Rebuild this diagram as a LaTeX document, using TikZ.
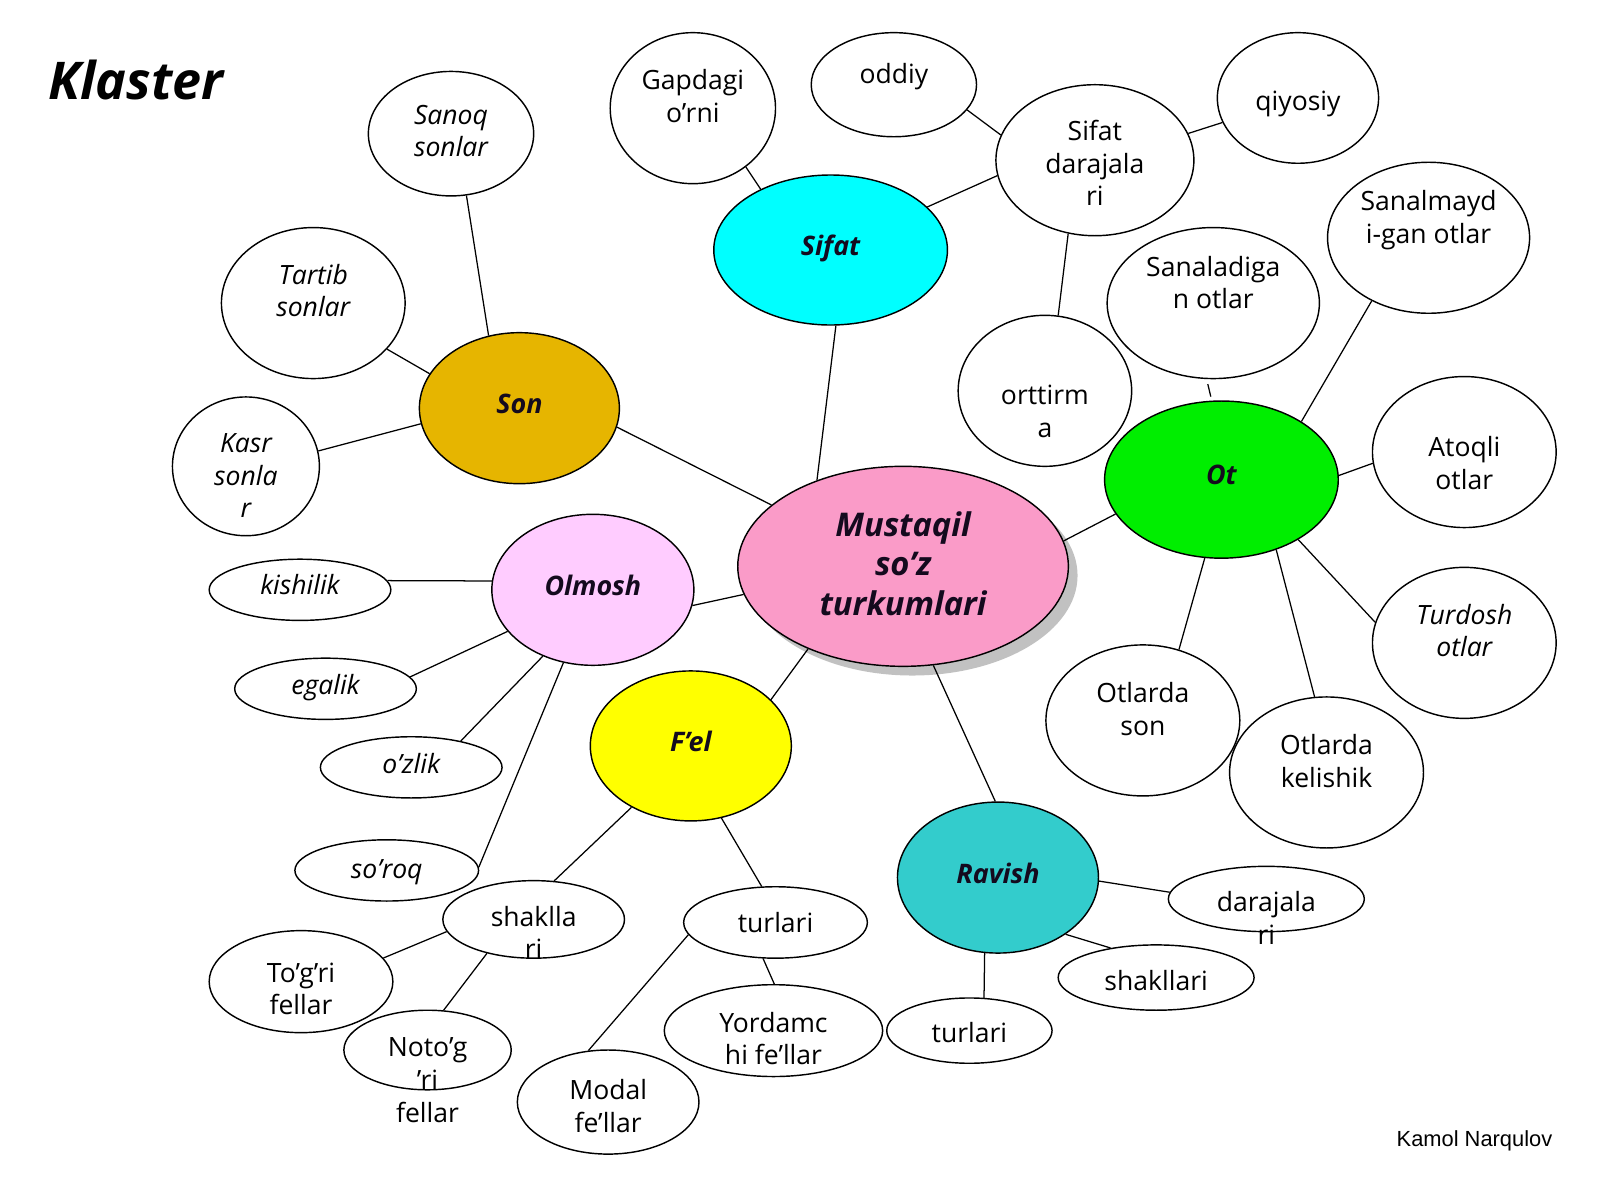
\documentclass[tikz,border=0pt]{standalone}
\usepackage{fontspec}
\setmainfont{Open Sans}
\newfontfamily\arialfont{Liberation Sans}
\usetikzlibrary{shapes.geometric,shadows}
\definecolor{pinkc}{RGB}{250,155,200}
\definecolor{sonc}{RGB}{230,181,0}
\definecolor{sifatc}{RGB}{0,255,255}
\definecolor{otc}{RGB}{0,238,0}
\definecolor{olmoshc}{RGB}{255,204,255}
\definecolor{felc}{RGB}{255,255,0}
\definecolor{ravishc}{RGB}{51,204,204}
\definecolor{inkc}{RGB}{20,10,30}
\newlength\pxu \setlength\pxu{0.2mm}
\newcommand{\tx}[2]{\makebox[0pt]{\raisebox{\dimexpr-#1\pxu-3\pxu-.25em\relax}[0pt][0pt]{\begin{tabular}{@{}c@{}}#2\end{tabular}}}}

\begin{document}
\begin{tikzpicture}[x=0.2mm,y=-0.2mm,
    bubble/.style 2 args={ellipse, draw, line width=0.8pt, inner sep=0pt,
      minimum width=#1*0.2mm, minimum height=#2*0.2mm},
    leaf/.style 2 args={bubble={#1}{#2}, fill=white, font=\fontsize{14.8}{18.2}\selectfont},
    ileaf/.style 2 args={leaf={#1}{#2}, font=\fontsize{14.8}{18.2}\selectfont\itshape},
    group/.style n args={3}{bubble={#1}{#2}, fill=#3, text=inkc,
      font=\fontsize{15}{18}\selectfont\bfseries\itshape},
    link/.style={line width=0.7pt}]
  \fill[white] (0,0) rectangle (1568,1176);
  \useasboundingbox (0,0) rectangle (1568,1176);

  \node[anchor=west, inner sep=0pt, font=\fontsize{29}{34}\selectfont\bfseries\itshape] (title) at (47,78) {Klaster};
  \node[inner sep=0pt, font=\arialfont\fontsize{12.2}{14}\selectfont] (author) at (1445,1118) {Kamol Narqulov};

  \node[group={324}{196}{pinkc}, font=\fontsize{18.2}{22}\selectfont\bfseries\itshape,
    drop shadow={shadow xshift=1.8mm, shadow yshift=-1.8mm, fill=black!40, opacity=.6}]
    (main) at (885,555) {\tx{-2}{Mustaqil\\so’z\\turkumlari}};

  \node[group={196}{148}{sonc}] (son) at (509,400) {\tx{-4}{Son}};
  \node[group={229}{147}{sifatc}] (sifat) at (814,245) {\tx{-4}{Sifat}};
  \node[group={229}{154}{otc}] (ot) at (1197,470) {\tx{-5}{Ot}};
  \node[group={198}{148}{olmoshc}] (olmosh) at (581,578) {\tx{-4}{Olmosh}};
  \node[group={197}{147}{felc}] (fel) at (677,731) {\tx{-4}{F’el}};
  \node[group={197}{148}{ravishc}] (ravish) at (978,860) {\tx{-4}{Ravish}};

  \node[ileaf={162}{122}] (sanoq) at (442,131) {\tx{-3}{Sanoq\\sonlar}};
  \node[ileaf={180}{148}] (tartib) at (307,297) {\tx{-12}{Tartib\\sonlar}};
  \node[ileaf={144}{136}] (kasr) at (241,457) {\tx{9}{Kasr\\sonla\\r}};

  \node[leaf={162}{148}] (gapdagi) at (679,106) {\tx{-12}{Gapdagi\\o’rni}};
  \node[leaf={162}{102}] (oddiy) at (876,83) {\tx{-11}{oddiy}};
  \node[leaf={194}{148}] (sdaraja) at (1073,157) {\tx{3}{Sifat\\darajala\\ri}};
  \node[leaf={158}{128}] (qiyosiy) at (1272,96) {\tx{3}{qiyosiy}};
  \node[leaf={170}{148}] (orttirma) at (1024,383) {\tx{20}{orttirm\\a}};

  \node[leaf={198}{148}] (sanalmay) at (1400,233) {\tx{-20}{Sanalmayd\\i-gan otlar}};
  \node[leaf={208}{148}] (sanalad) at (1189,297) {\tx{-20}{Sanaladiga\\n otlar}};
  \node[leaf={180}{148}] (atoqli) at (1435,443) {\tx{11}{Atoqli\\otlar}};
  \node[ileaf={180}{148}] (turdosh) at (1435,630) {\tx{-12}{Turdosh\\otlar}};
  \node[leaf={190}{148}] (otson) at (1120,706) {\tx{-11}{Otlarda\\son}};
  \node[leaf={190}{148}] (otkel) at (1300,757) {\tx{-11}{Otlarda\\kelishik}};

  \node[leaf={192}{64}] (rdaraja) at (1241,881) {\tx{19}{darajala\\ri}};
  \node[leaf={192}{64}] (rshakl) at (1133,958) {\tx{3}{shakllari}};
  \node[leaf={162}{64}] (rturlari) at (950,1010) {\tx{2}{turlari}};

  \node[leaf={180}{70}] (fturlari) at (760,904) {\tx{0}{turlari}};
  \node[leaf={214}{90}] (yordam) at (758,1010) {\tx{8}{Yordamc\\hi fe’llar}};
  \node[leaf={178}{102}] (modal) at (596,1080) {\tx{4}{Modal\\fe’llar}};
  \node[leaf={178}{76}] (fshakl) at (523,901) {\tx{13}{shaklla\\ri}};
  \node[leaf={180}{100}] (togri) at (295,962) {\tx{7}{To’g’ri\\fellar}};
  \node[leaf={164}{78}] (notogri) at (419,1029) {\tx{29}{Noto’g\\’ri\\fellar}};

  \node[ileaf={178}{60}] (kishilik) at (294,578) {\tx{-5}{kishilik}};
  \node[ileaf={178}{60}] (egalik) at (319,675) {\tx{-4}{egalik}};
  \node[ileaf={178}{60}] (ozlik) at (403,752) {\tx{-4}{o’zlik}};
  \node[ileaf={180}{60}] (soroq) at (379,853) {\tx{-2}{so’roq}};

  \draw[link] (sanoq.-76) -- (son.113);
  \draw[link] (tartib.-32) -- (son.159);
  \draw[link] (kasr.12) -- (son.189);
  \draw[link] (son.-11) -- (main.155);
  \draw[link] (gapdagi.-48) -- (sifat.139);
  \draw[link] (sifat.-86) -- (main.135);
  \draw[link] (oddiy.-19) -- (sdaraja.165);
  \draw[link] (qiyosiy.198) -- (sdaraja.16);
  \draw[link] (sdaraja.189) -- (sifat.24);
  \draw[link] (sdaraja.250) -- (orttirma.80);
  \draw[link, shorten <=1mm, shorten >=0.8mm] (sanalad.-95) -- (ot.97);
  \draw[link] (sanalmay.228) -- (ot.36);
  \draw[link] (atoqli.187) -- (ot.2);
  \draw[link] (ot.198) -- (main.9);
  \draw[link] (ot.258) -- (otson.63);
  \draw[link] (ot.-52) -- (otkel.99);
  \draw[link] (ot.-38) -- (turdosh.167);
  \draw[link] (main.-73) -- (ravish.92);
  \draw[link] (ravish.-2) -- (rdaraja.176);
  \draw[link] (ravish.-40) -- (rshakl.147);
  \draw[link] (ravish.260) -- (rturlari.66);
  \draw[link] (main.221) -- (fel.30);
  \draw[link] (fel.226) -- (fshakl.62);
  \draw[link] (fel.-67) -- (fturlari.111);
  \draw[link] (fshakl.188) -- (togri.16);
  \draw[link] (fshakl.216) -- (notogri.68);
  \draw[link] (fturlari.188) -- (modal.111);
  \draw[link] (fturlari.251) -- (yordam.89);
  \draw[link] (olmosh.-9) -- (main.190);
  \draw[link] (kishilik.6) -- (olmosh.175);
  \draw[link] (egalik.8) -- (olmosh.206);
  \draw[link] (ozlik.28) -- (olmosh.233);
  \draw[link] (soroq.2) -- (olmosh.248);
\end{tikzpicture}
\end{document}
